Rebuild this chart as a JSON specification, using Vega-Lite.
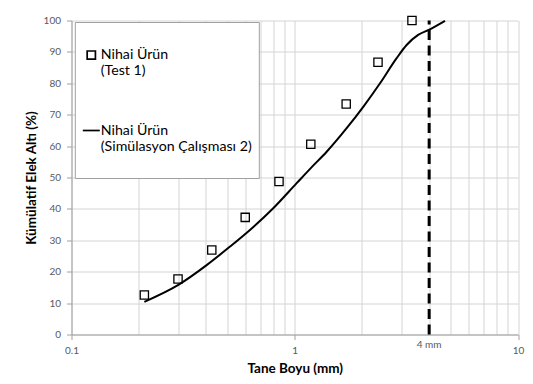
{
  "$schema": "https://vega.github.io/schema/vega-lite/v6.json",
  "width": 446.5,
  "height": 314,
  "autosize": "none",
  "padding": {"left": 71.5, "top": 20.5, "right": 15, "bottom": 49.5},
  "background": "white",
  "config": {"font": "Lato", "view": {"stroke": null}},
  "datasets": {
    "test": [
      {"size": 0.212, "pct": 12.6, "series": "Nihai Ürün|(Test 1)"},
      {"size": 0.3, "pct": 17.7, "series": "Nihai Ürün|(Test 1)"},
      {"size": 0.425, "pct": 26.9, "series": "Nihai Ürün|(Test 1)"},
      {"size": 0.6, "pct": 37.3, "series": "Nihai Ürün|(Test 1)"},
      {"size": 0.85, "pct": 48.7, "series": "Nihai Ürün|(Test 1)"},
      {"size": 1.18, "pct": 60.6, "series": "Nihai Ürün|(Test 1)"},
      {"size": 1.7, "pct": 73.4, "series": "Nihai Ürün|(Test 1)"},
      {"size": 2.36, "pct": 86.7, "series": "Nihai Ürün|(Test 1)"},
      {"size": 3.35, "pct": 100, "series": "Nihai Ürün|(Test 1)"}
    ],
    "sim": [
      {"size": 0.212, "pct": 10.4, "series": "Nihai Ürün|(Simülasyon Çalışması 2)"},
      {"size": 0.301, "pct": 15.8, "series": "Nihai Ürün|(Simülasyon Çalışması 2)"},
      {"size": 0.403, "pct": 22.1, "series": "Nihai Ürün|(Simülasyon Çalışması 2)"},
      {"size": 0.513, "pct": 28.0, "series": "Nihai Ürün|(Simülasyon Çalışması 2)"},
      {"size": 0.63, "pct": 33.3, "series": "Nihai Ürün|(Simülasyon Çalışması 2)"},
      {"size": 0.801, "pct": 40.2, "series": "Nihai Ürün|(Simülasyon Çalışması 2)"},
      {"size": 1.02, "pct": 48.2, "series": "Nihai Ürün|(Simülasyon Çalışması 2)"},
      {"size": 1.18, "pct": 53.0, "series": "Nihai Ürün|(Simülasyon Çalışması 2)"},
      {"size": 1.39, "pct": 58.2, "series": "Nihai Ürün|(Simülasyon Çalışması 2)"},
      {"size": 1.708, "pct": 65.7, "series": "Nihai Ürün|(Simülasyon Çalışması 2)"},
      {"size": 2.027, "pct": 72.5, "series": "Nihai Ürün|(Simülasyon Çalışması 2)"},
      {"size": 2.41, "pct": 80.0, "series": "Nihai Ürün|(Simülasyon Çalışması 2)"},
      {"size": 2.86, "pct": 88.0, "series": "Nihai Ürün|(Simülasyon Çalışması 2)"},
      {"size": 3.17, "pct": 92.2, "series": "Nihai Ürün|(Simülasyon Çalışması 2)"},
      {"size": 3.57, "pct": 95.4, "series": "Nihai Ürün|(Simülasyon Çalışması 2)"},
      {"size": 4.03, "pct": 97.2, "series": "Nihai Ürün|(Simülasyon Çalışması 2)"},
      {"size": 4.71, "pct": 99.9, "series": "Nihai Ürün|(Simülasyon Çalışması 2)"}
    ],
    "ref": [{"size": 4, "pct": 0, "label": "4 mm"}]
  },
  "encoding": {
    "x": {
      "field": "size", "type": "quantitative",
      "scale": {"type": "log", "domain": [0.1, 10], "nice": false},
      "axis": {
        "values": [0.1, 0.2, 0.3, 0.4, 0.5, 0.6, 0.7, 0.8, 0.9, 1, 2, 3, 4, 5, 6, 7, 8, 9, 10],
        "format": "~g",
        "labelExpr": "datum.value == 0.1 || datum.value == 1 || datum.value == 10 ? datum.label : ''",
        "labelOverlap": false, "labelFlush": false,
        "title": "Tane Boyu (mm)",
        "grid": true, "gridColor": "#d4d4d4", "gridWidth": 1,
        "domainColor": "#a0a0a0", "tickColor": "#a0a0a0", "tickSize": 5,
        "tickOpacity": {"condition": {"test": "datum.value == 0.1 || datum.value == 1 || datum.value == 10", "value": 1}, "value": 0},
        "labelPadding": 6, "labelFontSize": 10, "labelColor": "#595959",
        "titleFontSize": 13.5, "titleFontWeight": "bold", "titleColor": "#000000", "titlePadding": 6
      }
    },
    "y": {
      "field": "pct", "type": "quantitative",
      "scale": {"domain": [0, 100], "nice": false},
      "axis": {
        "values": [0, 10, 20, 30, 40, 50, 60, 70, 80, 90, 100],
        "title": "Kümülatif Elek Altı (%)",
        "grid": true, "gridColor": "#d4d4d4",
        "domainColor": "#a0a0a0", "tickColor": "#a0a0a0", "tickSize": 5,
        "labelPadding": 6, "labelFontSize": 10, "labelColor": "#595959",
        "titleFontSize": 13.5, "titleFontWeight": "bold", "titleColor": "#000000", "titlePadding": 5
      }
    }
  },
  "layer": [
    {
      "data": {"name": "sim"},
      "mark": {"type": "line", "strokeWidth": 2, "interpolate": "monotone"},
      "encoding": {
        "color": {
          "field": "series", "type": "ordinal",
          "scale": {"domain": ["Nihai Ürün|(Test 1)", "Nihai Ürün|(Simülasyon Çalışması 2)"], "range": ["#000000", "#000000"]},
          "legend": {
            "orient": "none", "legendX": 3.3, "legendY": 1.5,
            "direction": "vertical",
            "title": " ", "titleFontSize": 10, "titlePadding": 9,
            "padding": 7,
            "fillColor": "white", "strokeColor": "#a0a0a0",
            "symbolStrokeWidth": 1.7,
            "labelFont": "Lato", "labelFontSize": 14.2, "labelColor": "#000000",
            "labelOffset": 0, "rowPadding": 26,
            "labelExpr": "split(datum.label + '|', '|')"
          }
        }
      }
    },
    {
      "data": {"name": "test"},
      "mark": {"type": "point", "filled": false, "strokeWidth": 1.3, "opacity": 1},
      "encoding": {
        "color": {"field": "series", "type": "ordinal"},
        "shape": {
          "field": "series", "type": "ordinal",
          "scale": {"domain": ["Nihai Ürün|(Test 1)", "Nihai Ürün|(Simülasyon Çalışması 2)"], "range": ["square", "stroke"]}
        },
        "size": {
          "field": "series", "type": "ordinal",
          "scale": {"domain": ["Nihai Ürün|(Test 1)", "Nihai Ürün|(Simülasyon Çalışması 2)"], "range": [68, 289]}
        }
      }
    },
    {
      "data": {"name": "ref"},
      "mark": {"type": "rule", "strokeWidth": 3, "strokeDash": [10, 5.5], "color": "#000000"},
      "encoding": {"y": {"datum": 0}, "y2": {"datum": 100}}
    },
    {
      "data": {"name": "ref"},
      "mark": {"type": "text", "dy": 10, "fontSize": 10, "color": "#595959", "font": "Lato"},
      "encoding": {"text": {"field": "label"}}
    }
  ]
}
